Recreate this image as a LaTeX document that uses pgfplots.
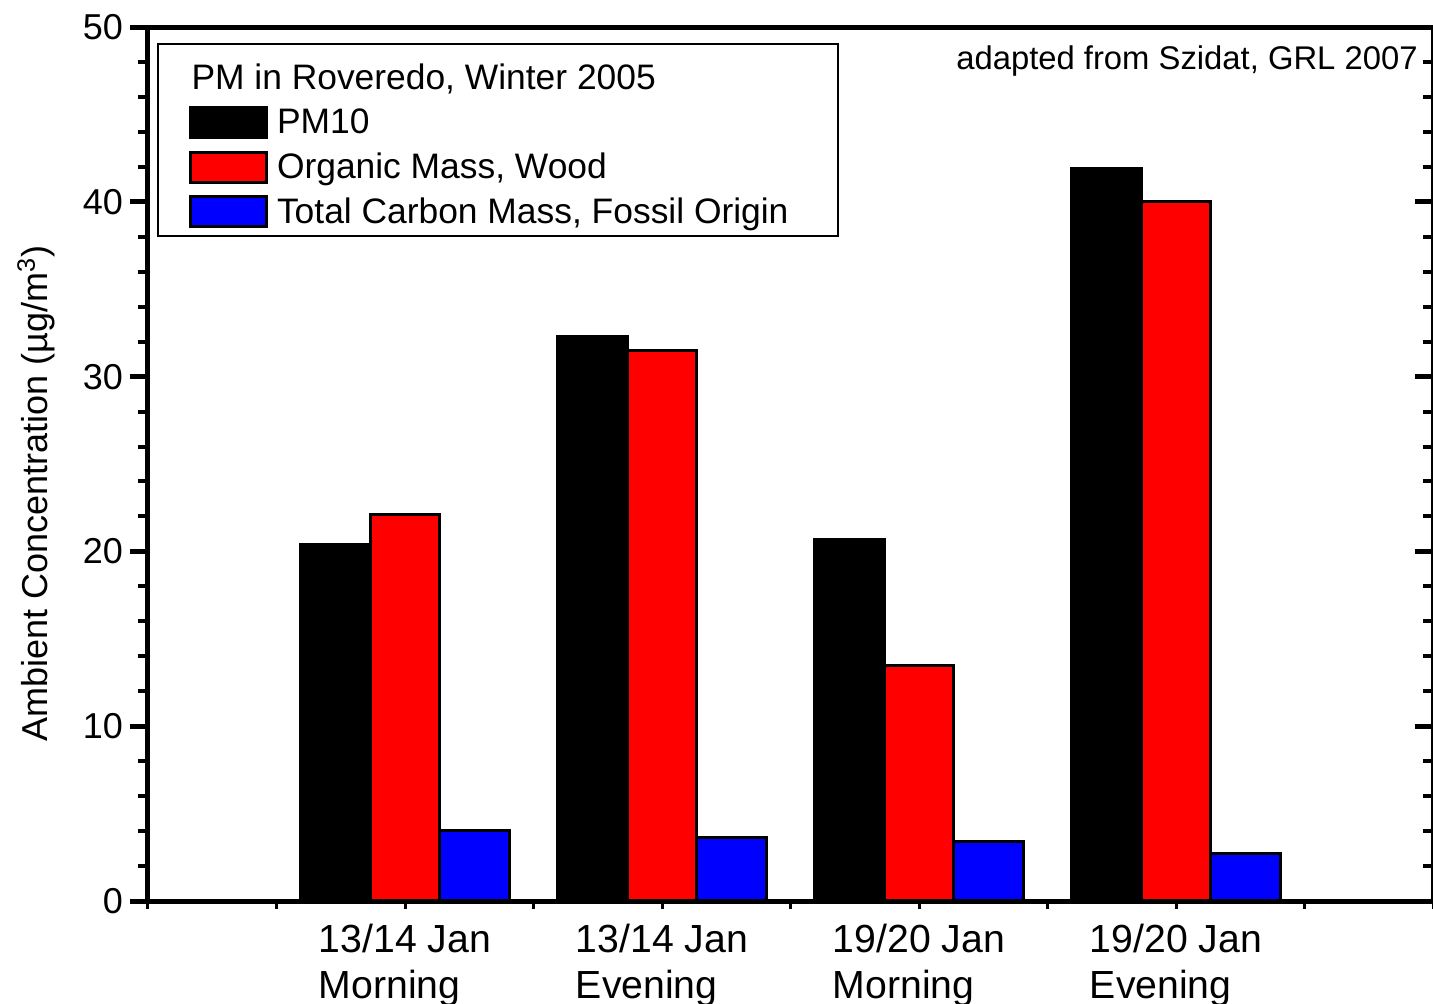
\documentclass[border=0pt]{standalone}
\usepackage{pgfplots}
\pgfplotsset{compat=1.18}
\usepackage{fontspec}
\setmainfont{Liberation Sans}

\pgfplotstableread{
x pm omw tcf
1 20.4 22.1 4.06
2 32.3 31.5 3.66
3 20.7 13.5 3.43
4 41.9 40.0 2.69
}\data

\newcommand{\lgfont}{\fontsize{17.7pt}{21pt}\selectfont}
\newcommand{\st}{\vphantom{Tg}}

\begin{document}
\begin{tikzpicture}
\pgfplotsset{
  frame/.style={
    at={(0,0)}, anchor=south west,
    scale only axis, width=642.5pt, height=437pt,
    xmin=0, xmax=5, ymin=0, ymax=50,
    axis line style={line width=2.5pt},
    every major tick/.style={line width=2.5pt, black},
    every minor tick/.style={line width=2pt, black},
  },
  patch/.style={legend image code/.code={
    \draw[##1, line width=1.5pt] (0pt,-7.5pt) rectangle (38pt,7.5pt);}},
}
% main axis: bars, left y ticks, category labels
\begin{axis}[frame,
    ybar=0pt, bar width=0.27,
    ytick={0,10,...,50}, minor y tick num=4,
    ytick pos=left, tick align=outside,
    major tick length=9pt, minor tick length=5pt,
    xtick={1,2,3,4},
    xticklabels={13/14 Jan\\Morning, 13/14 Jan\\Evening, 19/20 Jan\\Morning, 19/20 Jan\\Evening},
    xtick style={draw=none},
    xticklabel style={align=left, font=\fontsize{19.6pt}{23pt}\selectfont, yshift=1pt},
    yticklabel style={font=\fontsize{18pt}{21pt}\selectfont},
    /pgf/number format/assume math mode=true,
    ylabel={Ambient Concentration (µg/m\textsuperscript{3})},
    ylabel style={at={(axis description cs:-0.087,0.466)}, anchor=center, rotate=0,
      font=\fontsize{18pt}{21pt}\selectfont},
    legend style={at={(0,1)}, anchor=north west, xshift=4.5pt, yshift=-8pt,
      draw=black, line width=1pt, row sep=4pt, column sep=2.5pt,
      inner xsep=15.5pt, inner ysep=3pt, font=\lgfont},
    legend cell align=left,
  ]
  \addlegendimage{legend image code/.code={
    \node[overlay, anchor=west, inner sep=0pt, font=\lgfont, yshift=-2.5pt]
      at (0pt,0pt) {PM in Roveredo, Winter 2005\st};}}
  \addlegendentry{\rule{0pt}{18pt}\st}
  \addplot[patch, fill=black, draw=black, line width=1.5pt] table[x=x, y=pm] {\data};
  \addlegendentry{PM10\st}
  \addplot[patch, fill=red, draw=black, line width=1.5pt] table[x=x, y=omw] {\data};
  \addlegendentry{Organic Mass, Wood\st}
  \addplot[patch, fill=blue, draw=black, line width=1.5pt] table[x=x, y=tcf] {\data};
  \addlegendentry{Total Carbon Mass, Fossil Origin\st\rule{7pt}{0pt}}
  \node[anchor=north east, inner sep=0pt, font=\fontsize{16.4pt}{19pt}\selectfont]
    at (rel axis cs:1,1) [xshift=-7.5pt, yshift=-9pt] {adapted from Szidat, GRL 2007};
\end{axis}
% right y ticks, pointing in
\begin{axis}[frame, hide x axis, axis y line*=right,
    ytick={0,10,...,50}, minor y tick num=4, yticklabels={},
    tick align=inside, major tick length=9pt, minor tick length=5pt]
\end{axis}
% small x ticks at the bottom
\begin{axis}[frame, hide y axis, axis x line*=bottom,
    xtick={0,0.5,...,5}, xticklabels={},
    tick align=outside, major tick length=4pt,
    every major tick/.style={line width=1.5pt, black}]
\end{axis}
\pgfresetboundingbox
\path (-74pt,-51pt) rectangle (642.5pt,450.5pt);
\end{tikzpicture}
\end{document}
